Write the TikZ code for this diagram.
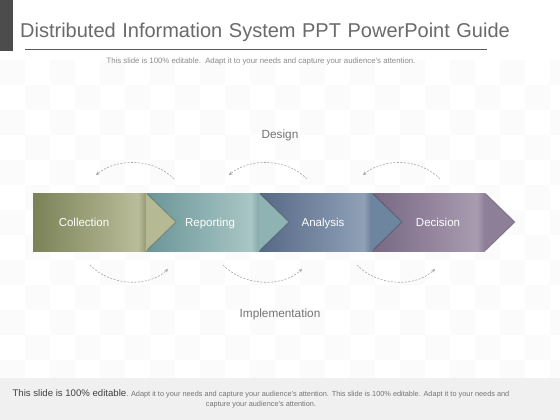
\documentclass[tikz,border=0pt]{standalone}
\usepackage{fontspec}
\setmainfont{Liberation Sans}
\usetikzlibrary{arrows.meta}
\definecolor{oliveD}{HTML}{7B8257}
\definecolor{oliveL}{HTML}{B9BD99}
\definecolor{oliveB}{HTML}{969A73}
\definecolor{oliveC}{HTML}{B6BA94}
\definecolor{tealD}{HTML}{6A9597}
\definecolor{tealL}{HTML}{A9C6C5}
\definecolor{tealB}{HTML}{85A8A9}
\definecolor{tealC}{HTML}{8FB2B3}
\definecolor{blueD}{HTML}{566985}
\definecolor{blueL}{HTML}{8FA0B7}
\definecolor{blueB}{HTML}{6A7E98}
\definecolor{blueC}{HTML}{6E85A0}
\definecolor{purpD}{HTML}{786883}
\definecolor{purpL}{HTML}{A99BB0}
\definecolor{purpB}{HTML}{8C7D96}
\definecolor{purpC}{HTML}{8E7F98}
\definecolor{titlegray}{HTML}{6A6A6A}
\definecolor{bandgray}{HTML}{F0F0F0}
\tikzset{
  lbl/.style={text=white, font=\fontsize{11.5}{13}\selectfont, inner sep=0pt, anchor=base},
  captxt/.style={text=black!55, font=\fontsize{11.8}{13}\selectfont, inner sep=0pt, anchor=base},
  arcline/.style={draw=black!35, dashed, dash pattern=on 2pt off 1.5pt, line width=0.6pt,
    -{Stealth[length=3.5pt,width=3.5pt]}},
}
\newcommand\mkseg[5]{% L, dark, light, band, chevron
  \shade[left color=#2, right color=#3] (#1,193) rectangle (#1+105,251);
  \shade[left color=#3, right color=#4] (#1+105,193) rectangle (#1+113,251);
}
\newcommand\mkchev[2]{% R, colour
  \fill[#2] (#1,193) -- (#1+30,222) -- (#1,251) -- cycle;
  \draw[black, opacity=0.2, line width=1pt] (#1+1,194) -- (#1+30,222) -- (#1+1,250);
}
\begin{document}
\begin{tikzpicture}[x=1pt,y=-1pt]
\useasboundingbox (0,0) rectangle (560,420);
\fill[white] (0,0) rectangle (560,420);
% faint checker background
\foreach \i in {0,...,22}{
  \foreach \j in {0,...,12}{
    \pgfmathtruncatemacro\kk{mod(\i+\j,2)}
    \ifnum\kk=0 \fill[black!1.5] (\i*25,60+\j*25) rectangle (\i*25+25,85+\j*25); \fi
  }
}
% header
\fill[black!70] (0,0) rectangle (13,51);
\node[anchor=base west, text=titlegray, font=\fontsize{20}{24}\selectfont, inner sep=0pt] (title) at (20,37.5)
  {Distributed\hspace{1pt} Information\hspace{1pt} System\hspace{1pt} PPT\hspace{1pt} PowerPoint\hspace{1pt} Guide};
\coordinate (la) at (25,49.5);
\coordinate (lb) at (487,49.5);
\draw[black!65, line width=0.8pt] (la) -- (lb);
\node[text=black!45, font=\fontsize{7.8}{9}\selectfont, inner sep=0pt] (sub) at (261,61)
  {This slide is 100\% editable.\, Adapt it to your needs and capture your audience's attention.};
% footer band
\fill[bandgray] (0,378) rectangle (560,420);
\node[text=black!55, font=\fontsize{7.35}{10}\selectfont, align=center, inner sep=0pt] (foot) at (261,399)
  {{\color{black!75}\fontsize{9.6}{10}\selectfont This slide is 100\% editable}. Adapt it to your needs and capture your audience's attention. This slide is 100\% editable. Adapt it to your needs and\\capture your audience's attention.};
% segments
\mkseg{33}{oliveD}{oliveL}{oliveB}{}
\mkseg{146}{tealD}{tealL}{tealB}{}
\mkseg{259}{blueD}{blueL}{blueB}{}
\mkseg{372}{purpD}{purpL}{purpB}{}
\mkchev{146}{oliveC}
\mkchev{259}{tealC}
\mkchev{372}{blueC}
\mkchev{485}{purpC}
\node[lbl] (col) at (84,226.5) {Collection};
\node[lbl] (rep) at (210,226.5) {Reporting};
\node[lbl] (ana) at (323,226.5) {Analysis};
\node[lbl] (dec) at (438,226.5) {Decision};
\node[captxt] (design) at (280,138.5) {Design};
\node[captxt] (impl) at (280,317) {Implementation};
% top arcs
\coordinate (t1a) at (174,179); \coordinate (t1b) at (96,175);
\coordinate (t2a) at (307,179); \coordinate (t2b) at (229,175);
\coordinate (t3a) at (440,179); \coordinate (t3b) at (363,175);
\draw[arcline] (t1a) .. controls (155,159) and (118,157) .. (t1b);
\draw[arcline] (t2a) .. controls (288,159) and (251,157) .. (t2b);
\draw[arcline] (t3a) .. controls (421,159) and (385,157) .. (t3b);
% bottom arcs
\coordinate (b1a) at (90,265); \coordinate (b1b) at (168,269);
\coordinate (b2a) at (223,265); \coordinate (b2b) at (302,269);
\coordinate (b3a) at (357,265); \coordinate (b3b) at (435,269);
\draw[arcline] (b1a) .. controls (110,286) and (148,288) .. (b1b);
\draw[arcline] (b2a) .. controls (243,286) and (282,288) .. (b2b);
\draw[arcline] (b3a) .. controls (377,286) and (415,288) .. (b3b);
\end{tikzpicture}
\end{document}
